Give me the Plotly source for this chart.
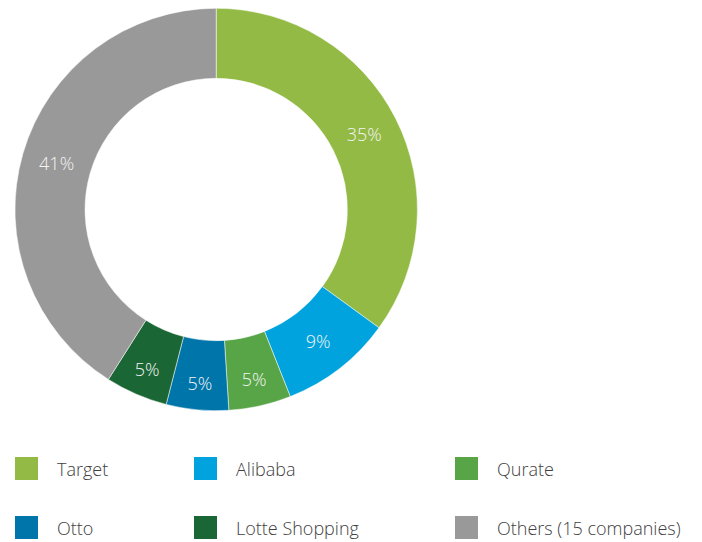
import plotly.graph_objects as go

# Share of companies (%), clockwise from 12 o'clock
companies = ["Target", "Alibaba", "Qurate", "Otto", "Lotte Shopping", "Others (15 companies)"]
shares = [35, 9, 5, 5, 5, 41]
colors = ["#92BA44", "#00A3DD", "#57A547", "#0075AA", "#1A6634", "#999999"]

FONT = "Open Sans"
# page body has an 8px margin, so the figure is a bit smaller and shifted
OFF = 8
W, H = 702 - OFF, 542 - OFF


def px(x):
    return (x - OFF) / W


def py(y):
    return 1 - (y - OFF) / H


fig = go.Figure()
fig.add_trace(go.Pie(
    labels=companies,
    values=shares,
    sort=False,
    direction="clockwise",
    rotation=0,
    hole=0.652,
    marker=dict(colors=colors, line=dict(color="white", width=0.5)),
    texttemplate="%{value}%",
    textposition="inside",
    insidetextorientation="horizontal",
    textfont=dict(family=FONT, size=18, color="#f4f4f4", weight=300),
    domain=dict(x=[px(15), px(417.4)], y=[py(410.7), py(8.3)]),
    showlegend=False,
    hoverinfo="label+percent",
))

# custom legend: 3 columns x 2 rows of coloured squares + names
col_x = [15, 194, 455]
row_y = [457, 516]
shapes, annotations = [], []
for i, (name, c) in enumerate(zip(companies, colors)):
    x0 = col_x[i % 3]
    y0 = row_y[i // 3]
    shapes.append(dict(
        type="rect", xref="paper", yref="paper",
        x0=px(x0), x1=px(x0 + 23), y0=py(y0), y1=py(y0 + 23),
        fillcolor=c, line=dict(width=0),
    ))
    annotations.append(dict(
        x=px(x0 + 40), y=py(y0 + 11.5), xref="paper", yref="paper",
        text=name, showarrow=False, xanchor="left", yanchor="middle",
        font=dict(family=FONT, size=18, color="#404040", weight=300),
    ))

fig.update_layout(
    width=W, height=H,
    margin=dict(l=0, r=0, t=0, b=0),
    paper_bgcolor="white",
    plot_bgcolor="white",
    shapes=shapes,
    annotations=annotations,
)

fig.write_html("out.html")
